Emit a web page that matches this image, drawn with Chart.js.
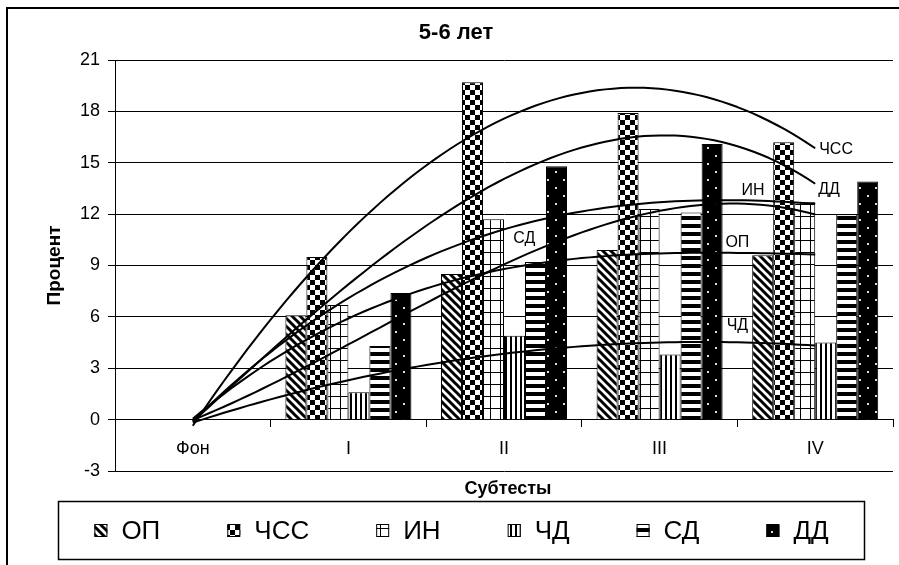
<!DOCTYPE html>
<html>
<head>
<meta charset="utf-8">
<script src="https://cdn.jsdelivr.net/npm/chart.js@4.4.1/dist/chart.umd.min.js"></script>
<style>
  html, body { margin: 0; padding: 0; background: #fff; }
</style>
</head>
<body>
<canvas id="chart" width="899" height="565"></canvas>
<script>
// categories and series (percent)
const categories = ['Фон', 'I', 'II', 'III', 'IV'];
const seriesNames = ['ОП', 'ЧСС', 'ИН', 'ЧД', 'СД', 'ДД'];
const opValues   = [0, 6.1, 8.5, 9.9, 9.6];
const chssValues = [0, 9.5, 19.7, 17.9, 16.2];
const inValues   = [0, 6.7, 11.7, 12.3, 12.7];
const chdValues  = [0, 1.6, 4.9, 3.8, 4.5];
const sdValues   = [0, 4.3, 9.2, 12.1, 12.0];
const ddValues   = [0, 7.4, 14.8, 16.1, 13.9];
const yTickValues = [-3, 0, 3, 6, 9, 12, 15, 18, 21];

const FONT = 'Arial, "Liberation Sans", sans-serif';
const TREND_ORDER = 3;

// hatch fills, black on white like an old office printout
function makePattern(kind) {
  const c = document.createElement('canvas');
  const g = c.getContext('2d');
  let w = 8, h = 8;
  if (kind === 'checker') { w = 10; h = 10; }
  if (kind === 'grid') { w = 10; h = 12; }
  if (kind === 'vlines') { w = 5; h = 1; }
  if (kind === 'hlines') { w = 1; h = 8; }
  if (kind === 'dots') { w = 16; h = 16; }
  c.width = w; c.height = h;
  g.fillStyle = '#fff';
  g.fillRect(0, 0, w, h);
  g.fillStyle = '#000';
  g.strokeStyle = '#000';
  if (kind === 'diag') {
    g.lineWidth = 3;
    g.beginPath();
    g.moveTo(-2, -2); g.lineTo(w + 2, h + 2);
    g.moveTo(-2, h - 2); g.lineTo(2, h + 2);
    g.moveTo(w - 2, -2); g.lineTo(w + 2, 2);
    g.stroke();
  } else if (kind === 'checker') {
    g.fillRect(0, 0, 5, 5);
    g.fillRect(5, 5, 5, 5);
  } else if (kind === 'grid') {
    g.fillRect(0, 0, w, 1);
    g.fillRect(0, 0, 1, h);
  } else if (kind === 'vlines') {
    g.fillRect(0, 0, 2, h);
  } else if (kind === 'hlines') {
    g.fillRect(0, 0, w, 4);
  } else if (kind === 'dots') {
    g.fillRect(0, 0, w, h);
    g.fillStyle = '#ddd';
    g.fillRect(3, 3, 2, 2);
    g.fillRect(11, 11, 2, 2);
  }
  return g.createPattern(c, 'repeat');
}

const ctx = document.getElementById('chart').getContext('2d');
const fills = ['diag', 'checker', 'grid', 'vlines', 'hlines', 'dots'].map(makePattern);
const valueSets = [opValues, chssValues, inValues, chdValues, sdValues, ddValues];

// where each trend label sits: position along the curve (category index) plus a nudge
const trendLabels = [
  { t: 3.5,  dx: 0, dy: -10, align: 'center' },
  { t: 4,    dx: 4, dy: 1,   align: 'left' },
  { t: 3.6,  dx: 0, dy: -10, align: 'center' },
  { t: 3.5,  dx: 0, dy: -17, align: 'center' },
  { t: 2.13, dx: 0, dy: -17, align: 'center' },
  { t: 4,    dx: 3, dy: 6,   align: 'left' }
];

// least squares polynomial over category index (Gaussian elimination on normal equations)
function polyFit(ys, order) {
  const n = order + 1;
  const M = [];
  for (let i = 0; i < n; i++) {
    const row = [];
    for (let j = 0; j < n; j++) row.push(ys.reduce((a, _, x) => a + x ** (i + j), 0));
    row.push(ys.reduce((a, y, x) => a + y * x ** i, 0));
    M.push(row);
  }
  for (let i = 0; i < n; i++) {
    for (let k = i + 1; k < n; k++) {
      const f = M[k][i] / M[i][i];
      for (let j = i; j <= n; j++) M[k][j] -= f * M[i][j];
    }
  }
  const c = new Array(n).fill(0);
  for (let i = n - 1; i >= 0; i--) {
    let s = M[i][n];
    for (let j = i + 1; j < n; j++) s -= M[i][j] * c[j];
    c[i] = s / M[i][i];
  }
  return x => c.reduce((a, k, i) => a + k * x ** i, 0);
}

const trendPlugin = {
  id: 'trends',
  afterDatasetsDraw(chart) {
    const { ctx: g, scales: { x, y } } = chart;
    g.save();
    g.strokeStyle = '#000';
    g.lineWidth = 2;
    g.lineJoin = 'round';
    g.fillStyle = '#000';
    g.font = '16px ' + FONT;
    g.textBaseline = 'middle';
    chart.data.datasets.forEach((ds, i) => {
      const f = polyFit(ds.data, TREND_ORDER);
      const last = ds.data.length - 1;
      g.beginPath();
      for (let t = 0; t <= last + 1e-9; t += 0.05) {
        const px = x.getPixelForValue(t), py = y.getPixelForValue(f(t));
        if (t === 0) g.moveTo(px, py); else g.lineTo(px, py);
      }
      g.stroke();
      const lab = trendLabels[i];
      g.textAlign = lab.align;
      g.fillText(ds.label, x.getPixelForValue(lab.t) + lab.dx, y.getPixelForValue(f(lab.t)) + lab.dy);
    });
    g.restore();
  }
};

const framePlugin = {
  id: 'frame',
  afterDraw(chart) {
    const g = chart.ctx;
    g.save();
    // outer chart border
    g.strokeStyle = '#000';
    g.lineWidth = 2;
    g.strokeRect(7, 8, 1000, 1000);
    g.fillStyle = '#000';
    g.textAlign = 'center';
    g.textBaseline = 'middle';
    // heading
    g.font = 'bold 22px ' + FONT;
    g.fillText('5-6 лет', 456, 33);
    // x axis caption
    g.font = 'bold 18px ' + FONT;
    g.fillText('Субтесты', 508, 489);
    // legend box
    g.font = '26px ' + FONT;
    const sw = 13, gapText = 14, gapItem = 67;
    const items = chart.data.datasets.map(ds => ({ ds, w: sw + gapText + g.measureText(ds.label).width }));
    const total = items.reduce((a, it) => a + it.w, 0) + gapItem * (items.length - 1);
    g.lineWidth = 1.5;
    g.strokeRect(58.5, 501.5, 806, 58);
    let lx = 461.5 - total / 2;
    const cy = 531;
    g.textAlign = 'left';
    items.forEach(it => {
      g.fillStyle = it.ds.backgroundColor;
      g.fillRect(lx, cy - 7, sw, sw);
      g.lineWidth = 1;
      g.strokeRect(lx + 0.5, cy - 6.5, sw - 1, sw - 1);
      g.fillStyle = '#000';
      g.fillText(it.ds.label, lx + sw + gapText, cy + 1);
      lx += it.w + gapItem;
    });
    g.restore();
  }
};

new Chart(ctx, {
  type: 'bar',
  data: {
    labels: categories,
    datasets: seriesNames.map((name, i) => ({
      label: name,
      data: valueSets[i],
      backgroundColor: fills[i],
      borderColor: '#000',
      borderWidth: 1,
      categoryPercentage: 0.81,
      barPercentage: 1
    }))
  },
  options: {
    responsive: false,
    animation: false,
    devicePixelRatio: 1,
    layout: { padding: { left: 0, right: 6, top: 60, bottom: 94 } },
    plugins: {
      legend: { display: false },
      tooltip: { enabled: false }
    },
    scales: {
      x: {
        position: { y: 0 },
        offset: true,
        grid: { display: true, drawOnChartArea: false, offset: true, color: '#000', tickLength: 7 },
        border: { display: true, color: '#000', width: 1 },
        ticks: { color: '#000', font: { family: FONT, size: 18 }, padding: 12 }
      },
      y: {
        min: -3,
        max: 21,
        afterBuildTicks: s => { s.ticks = yTickValues.map(v => ({ value: v })); },
        afterFit: s => { s.width = 115; },
        grid: { color: '#000', lineWidth: 1, tickLength: 7 },
        border: { display: true, color: '#000', width: 1 },
        ticks: { color: '#000', font: { family: FONT, size: 18 }, padding: 8 },
        title: {
          display: true,
          text: 'Процент',
          color: '#000',
          font: { family: FONT, size: 19, weight: 'bold' },
          padding: { top: 43, bottom: 0 }
        }
      }
    }
  },
  plugins: [trendPlugin, framePlugin]
});
</script>
</body>
</html>
